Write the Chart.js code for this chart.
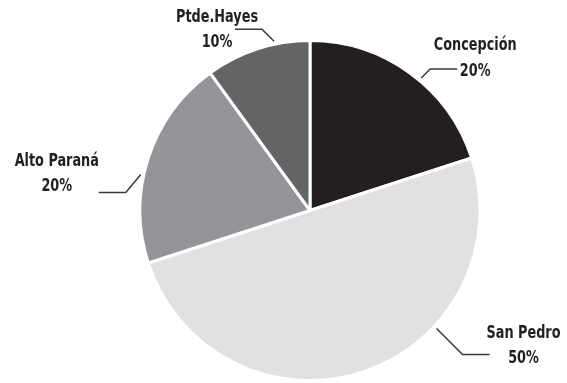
<!DOCTYPE html>
<html>
<head>
<meta charset="utf-8">
<script src="https://cdn.jsdelivr.net/npm/chart.js@4/dist/chart.umd.min.js"></script>
<style>
  html, body { margin: 0; padding: 0; background: #fff; }
  #wrap { width: 567px; height: 383px; }
</style>
</head>
<body>
<div id="wrap"><canvas id="pieChart"></canvas></div>
<script>
// departments and share of total (%)
const departments = ['Concepción', 'San Pedro', 'Alto Paraná', 'Ptde.Hayes'];
const shares = [20, 50, 20, 10];
const sliceColors = ['#231f20', '#e0e1e3', '#939598', '#636466'];

// where each label's leader line leaves the pie (deg clockwise from top),
// the elbow offset, the horizontal run and where the two text lines sit
const leaders = [
  { angle: 40,  elbow: [9, -9],   run: 27,  text: [18, -23, 3] },
  { angle: 133, elbow: [26, 26],  run: 27,  text: [34, -21, 4] },
  { angle: 282, elbow: [-15, 18], run: -27, text: [-42, -31, -6] },
  { angle: 348, elbow: [-12, -12], run: -27, text: [-18, -12, 13] }
];

const labelFont = 'bold 17px "DejaVu Sans Condensed", "DejaVu Sans", sans-serif';
const squeeze = 0.84; // the original labels use a narrow face

function narrowText(ctx, str, x, y) {
  ctx.save();
  ctx.translate(x, y);
  ctx.scale(squeeze, 1);
  ctx.fillText(str, 0, 0);
  ctx.restore();
}

const leaderLabels = {
  id: 'leaderLabels',
  afterDraw(chart) {
    const ctx = chart.ctx;
    const arcs = chart.getDatasetMeta(0).data;
    ctx.save();
    arcs.forEach((arc, i) => {
      const l = leaders[i];
      const a = (l.angle - 90) * Math.PI / 180;
      const r = arc.outerRadius + 3;
      const sx = arc.x + Math.cos(a) * r;
      const sy = arc.y + Math.sin(a) * r;
      const ex = sx + l.elbow[0];
      const ey = sy + l.elbow[1];
      const fx = ex + l.run;

      ctx.strokeStyle = '#3a3a3a';
      ctx.lineWidth = 1.5;
      ctx.beginPath();
      ctx.moveTo(sx, sy);
      ctx.lineTo(ex, ey);
      ctx.lineTo(fx, ey);
      ctx.stroke();

      ctx.fillStyle = '#231f20';
      ctx.font = labelFont;
      ctx.textAlign = 'center';
      ctx.textBaseline = 'middle';
      narrowText(ctx, departments[i], fx + l.text[0], ey + l.text[1]);
      narrowText(ctx, shares[i] + '%', fx + l.text[0], ey + l.text[2]);
    });
    ctx.restore();
  }
};

new Chart(document.getElementById('pieChart'), {
  type: 'pie',
  data: {
    labels: departments,
    datasets: [{
      data: shares,
      backgroundColor: sliceColors,
      borderColor: '#ffffff',
      borderWidth: 3
    }]
  },
  options: {
    responsive: true,
    maintainAspectRatio: false,
    animation: false,
    layout: { padding: { top: 39, bottom: 1, left: 53, right: 0 } },
    plugins: {
      legend: { display: false },
      tooltip: { enabled: false }
    }
  },
  plugins: [leaderLabels]
});
</script>
</body>
</html>
